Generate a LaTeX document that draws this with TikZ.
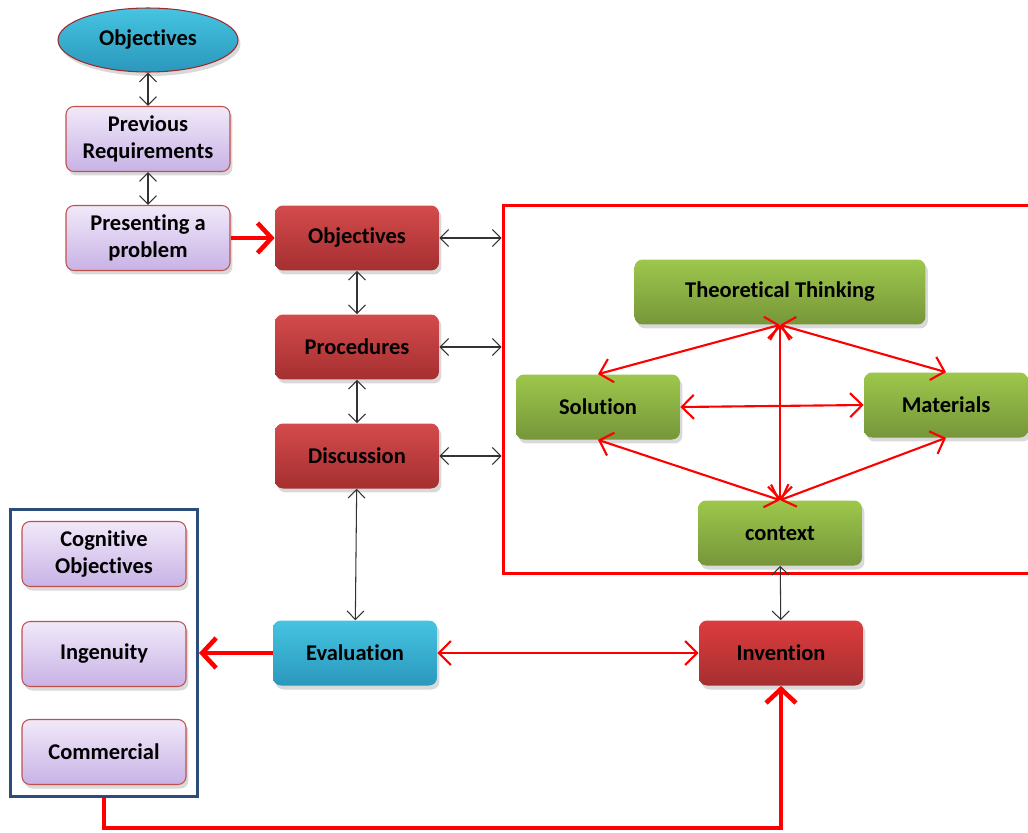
\documentclass[tikz,border=0pt]{standalone}
\usepackage{fontspec}
\setmainfont[Ligatures=NoCommon]{Carlito}
\usepackage{tikz}
\usetikzlibrary{arrows.meta, shapes.geometric, shadows, fit}
\tikzset{>={Straight Barb[length=1.7mm,width=3.4mm]}}
\definecolor{redtop}{HTML}{D44B4C}
\definecolor{redbot}{HTML}{A52F30}
\definecolor{lilactop}{HTML}{F1E9F9}
\definecolor{lilacbot}{HTML}{C8B2E6}
\definecolor{lilacedge}{HTML}{C0504D}
\definecolor{greentop}{HTML}{9DC74C}
\definecolor{greenbot}{HTML}{76963A}
\definecolor{cyantop}{HTML}{46C4E2}
\definecolor{cyanbot}{HTML}{2A98BC}
\definecolor{ellipseedge}{HTML}{A0282A}
\definecolor{blueedge}{HTML}{2C4D7C}

\begin{document}
\begin{tikzpicture}[
    x = 0.02cm, y = 0.02cm,
    font = \fontsize{12.8}{15}\selectfont\bfseries,
    card/.style = {rounded corners=0.16cm, minimum width=3.28cm,
        minimum height=1.3cm, align=center, inner sep=1mm,
        drop shadow={opacity=0.3, shadow xshift=0.5mm, shadow yshift=-0.8mm}},
    lilac/.style = {card, draw=lilacedge, semithick,
        top color=lilactop, bottom color=lilacbot},
    redcard/.style = {card, top color=redtop, bottom color=redbot},
    greencard/.style = {card, top color=greentop, bottom color=greenbot},
    cyancard/.style = {card, top color=cyantop, bottom color=cyanbot},
    link/.style = {<->, black!80, line width=0.6pt},
    redlink/.style = {<->, red, line width=1.2pt,
        >={Straight Barb[length=2.4mm,width=4.8mm]}},
    bigarrow/.style = {->, red, line width=2.6pt,
        >={Straight Barb[length=2.8mm,width=6mm]}}
  ]
  \useasboundingbox (0,0) rectangle (1028,-832);
  \clip (0,0) rectangle (1028,-832);

  \node[ellipse, draw=ellipseedge, semithick, minimum width=3.6cm,
    minimum height=1.28cm, top color=cyantop, bottom color=cyanbot,
    drop shadow={opacity=0.3, shadow xshift=0.5mm, shadow yshift=-0.8mm}]
    (goal) at (148,-40) {Objectives};
  \node[lilac] (prev) at (148,-139) {Previous\\Requirements};
  \node[lilac] (pres) at (148,-238) {Presenting a\\problem};

  \node[redcard] (obj) at (357,-238) {Objectives};
  \node[redcard] (proc) at (357,-347) {Procedures};
  \node[redcard] (disc) at (357,-456) {Discussion};
  \node[cyancard] (eval) at (355,-653) {Evaluation};
  \node[redcard, top color=red!20!redtop] (inv) at (781,-653) {Invention};

  \node[draw=red, line width=1.7pt, minimum width=10.74cm,
    minimum height=7.38cm] (frame) at (771.5,-389.5) {};
  \node[greencard, minimum width=5.82cm] (theory) at (780,-292) {Theoretical Thinking};
  \node[greencard] (sol) at (598,-407) {Solution};
  \node[greencard] (mat) at (946,-405) {Materials};
  \node[greencard] (ctx) at (780,-533) {context};

  \foreach \txt/\y/\n in {Cognitive\\Objectives/554/cog, Ingenuity/654/ing,
      Commercial/752/com}
  \node[lilac] (\n) at (104,-\y) {\txt};
  \node[draw=blueedge, line width=1.7pt, inner sep=0.22cm,
    fit=(cog)(ing)(com)] (group) {};

  \draw[link] (goal) -- (prev);
  \draw[link] (prev) -- (pres);
  \draw[link] (obj) -- (proc);
  \draw[link] (proc) -- (disc);
  \draw[link] (disc) -- (eval);
  \foreach \n in {obj, proc, disc}
  \draw[link] (\n.east) -- (\n.east -| frame.west);
  \draw[link] (ctx) -- (inv);

  \draw[redlink] (theory.south) -- (sol.north);
  \draw[redlink] (theory.south) -- (mat.north);
  \draw[redlink] (theory.south) -- (ctx.north);
  \draw[redlink] (sol.east) -- (mat.west);
  \draw[redlink] (sol.south) -- (ctx.north);
  \draw[redlink] (mat.south) -- (ctx.north);
  \draw[redlink] (eval) -- (inv);

  \draw[bigarrow] (pres) -- (obj);
  \draw[bigarrow] (eval) -- (group);
  \coordinate (low) at (0,-828);
  \draw[bigarrow] (group.south) |- (low -| inv.south) -- (inv.south);
\end{tikzpicture}
\end{document}
